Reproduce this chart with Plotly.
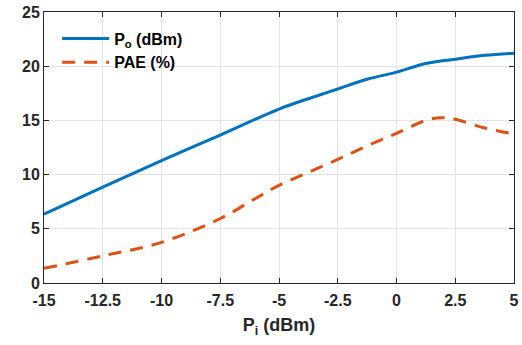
import plotly.graph_objects as go

pi_x = [-15, -12.5, -10, -7.5, -5, -3.75, -2.5, -1.25, 0, 1.25, 2.5, 3.75, 5]
po = [6.35, 8.85, 11.3, 13.65, 16.05, 17.0, 17.9, 18.8, 19.45, 20.25, 20.65, 21.0, 21.2]
pae_x = [-15, -12.5, -10, -7.5, -6, -5, -3.75, -2.5, -1.25, 0, 1.25, 1.9, 2.5, 3.75, 5]
pae = [1.35, 2.5, 3.75, 5.95, 7.8, 9.0, 10.2, 11.4, 12.65, 13.8, 15.0, 15.25, 15.1, 14.3, 13.75]

xticks = [-15, -12.5, -10, -7.5, -5, -2.5, 0, 2.5, 5]
xtick_text = ["-15", "-12.5", "-10", "-7.5", "-5", "-2.5", "0", "2.5", "5"]
yticks = [0, 5, 10, 15, 20, 25]

FONT = "Liberation Sans"
fig = go.Figure()
fig.add_trace(go.Scatter(x=pi_x, y=po, mode="lines", name="<b>P<sub>o</sub> (dBm)</b>",
                         line=dict(color="#0072BD", width=3, shape="spline")))
fig.add_trace(go.Scatter(x=pae_x, y=pae, mode="lines", name="<b>PAE (%)</b>",
                         line=dict(color="#D95319", width=3, shape="spline", dash="13px,9px")))

axis_common = dict(showline=True, linecolor="#262626", linewidth=1, mirror="ticks",
                   ticks="inside", ticklen=5, tickcolor="#262626", showgrid=True,
                   gridcolor="#e3e3e3", gridwidth=1, zeroline=False, automargin=False,
                   ticklabeloverflow="allow",
                   tickfont=dict(family=FONT, size=16, color="#262626"))

fig.update_layout(
    width=522, height=345,
    margin=dict(l=44, r=8, t=12, b=62, autoexpand=False),
    paper_bgcolor="white", plot_bgcolor="white",
    font=dict(family=FONT, color="#262626"),
    showlegend=True,
    legend=dict(x=0.028, y=0.965, xanchor="left", yanchor="top",
                bgcolor="rgba(0,0,0,0)", borderwidth=0,
                font=dict(family=FONT, size=16, color="#000000"),
                itemwidth=47, tracegroupgap=0),
)
fig.update_xaxes(range=[-15.0001, 5.0001], tickvals=xticks, ticktext=["<b>%s</b>" % t for t in xtick_text],
                 ticklabelstandoff=3,
                 title=dict(text="<b>P<sub>i</sub> (dBm)</b>", font=dict(family=FONT, size=18, color="#262626"), standoff=10),
                 **axis_common)
fig.update_yaxes(range=[0, 25.0001], tickvals=yticks, ticktext=["<b>%d</b>" % t for t in yticks],
                 **axis_common)

fig.write_html("out.html", config={"displayModeBar": False},
               post_script="document.body.style.margin='0';")
